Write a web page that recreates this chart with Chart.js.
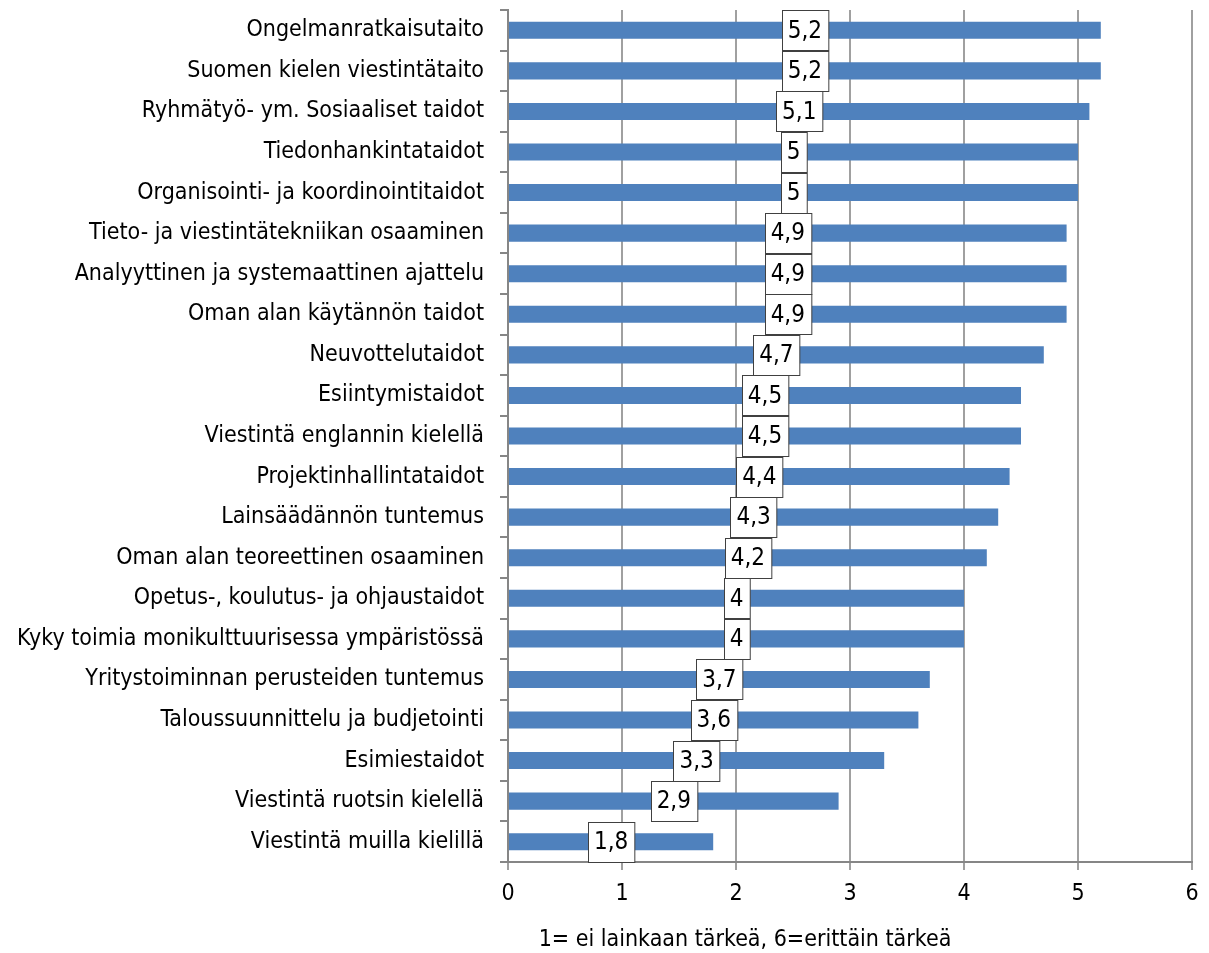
<!DOCTYPE html>
<html>
<head>
<meta charset="utf-8">
<script src="https://cdn.jsdelivr.net/npm/chart.js@4"></script>
<style>
    html, body { margin: 0; padding: 0; background: #ffffff; }
    #wrap { width: 1209px; height: 953px; }
</style>
</head>
<body>
<div id="wrap"><canvas id="chart" width="1209" height="953"></canvas></div>
<script>
const categories = [
    'Ongelmanratkaisutaito',
    'Suomen kielen viestintätaito',
    'Ryhmätyö- ym. Sosiaaliset taidot',
    'Tiedonhankintataidot',
    'Organisointi- ja koordinointitaidot',
    'Tieto- ja viestintätekniikan osaaminen',
    'Analyyttinen ja systemaattinen ajattelu',
    'Oman alan käytännön taidot',
    'Neuvottelutaidot',
    'Esiintymistaidot',
    'Viestintä englannin kielellä',
    'Projektinhallintataidot',
    'Lainsäädännön tuntemus',
    'Oman alan teoreettinen osaaminen',
    'Opetus-, koulutus- ja ohjaustaidot',
    'Kyky toimia monikulttuurisessa ympäristössä',
    'Yritystoiminnan perusteiden tuntemus',
    'Taloussuunnittelu ja budjetointi',
    'Esimiestaidot',
    'Viestintä ruotsin kielellä',
    'Viestintä muilla kielillä'
];
const values = [5.2, 5.2, 5.1, 5, 5, 4.9, 4.9, 4.9, 4.7, 4.5, 4.5, 4.4, 4.3, 4.2, 4, 4, 3.7, 3.6, 3.3, 2.9, 1.8];
const xTicks = [0, 1, 2, 3, 4, 5, 6];
const axisTitle = '1= ei lainkaan tärkeä, 6=erittäin tärkeä';

const FONT = "'Liberation Sans Narrow', 'DejaVu Sans Condensed', 'Arial Narrow', sans-serif";
const fmt = v => String(v).replace('.', ',');

// arvolaatikot palkkien keskelle
const boxLabels = {
    id: 'boxLabels',
    afterDatasetsDraw(chart) {
        const ctx = chart.ctx;
        const meta = chart.getDatasetMeta(0);
        ctx.save();
        ctx.font = '24px ' + FONT;
        ctx.textAlign = 'center';
        ctx.textBaseline = 'middle';
        meta.data.forEach((bar, i) => {
            const txt = fmt(values[i]);
            const cx = (bar.x + bar.base) / 2;
            const w = ctx.measureText(txt).width + 12;
            const h = 40;
            const x0 = Math.round(cx - w / 2) + 0.5;
            const y0 = Math.round(bar.y - h / 2) + 0.5;
            ctx.fillStyle = '#ffffff';
            ctx.fillRect(x0, y0, w, h);
            ctx.strokeStyle = '#404040';
            ctx.lineWidth = 1;
            ctx.strokeRect(x0, y0, w, h);
            ctx.fillStyle = '#000000';
            ctx.fillText(txt, cx, bar.y + 1);
        });
        ctx.restore();
    }
};

// akselin otsikko
const axisCaption = {
    id: 'axisCaption',
    afterDraw(chart) {
        const ctx = chart.ctx;
        ctx.save();
        ctx.font = '23px ' + FONT;
        ctx.fillStyle = '#000000';
        ctx.textAlign = 'center';
        ctx.textBaseline = 'middle';
        ctx.fillText(axisTitle, 745, 940);
        ctx.restore();
    }
};

new Chart(document.getElementById('chart'), {
    type: 'bar',
    data: {
        labels: categories,
        datasets: [{
            data: values,
            backgroundColor: '#4f81bd',
            borderWidth: 0,
            barPercentage: 0.42,
            categoryPercentage: 1
        }]
    },
    options: {
        indexAxis: 'y',
        responsive: false,
        animation: false,
        events: [],
        layout: { padding: { top: 10, right: 17, bottom: 0, left: 0 } },
        plugins: {
            legend: { display: false },
            tooltip: { enabled: false }
        },
        scales: {
            x: {
                min: 0,
                max: 6,
                afterBuildTicks: axis => { axis.ticks = xTicks.map(v => ({ value: v })); },
                afterFit: axis => { axis.height = 91; },
                grid: { color: '#a0a0a0', lineWidth: 2, tickLength: 8, drawTicks: true },
                border: { color: '#868686', width: 2 },
                ticks: { color: '#000000', font: { family: FONT, size: 23 }, padding: 10 }
            },
            y: {
                afterFit: axis => {
                    axis.width = 508;
                    axis.paddingTop = 0;
                    axis.paddingBottom = 0;
                },
                grid: { offset: true, drawOnChartArea: false, color: '#868686', lineWidth: 2, tickLength: 8 },
                border: { color: '#868686', width: 2 },
                ticks: { color: '#000000', font: { family: FONT, size: 23 }, padding: 16, autoSkip: false }
            }
        }
    },
    plugins: [boxLabels, axisCaption]
});
</script>
</body>
</html>
